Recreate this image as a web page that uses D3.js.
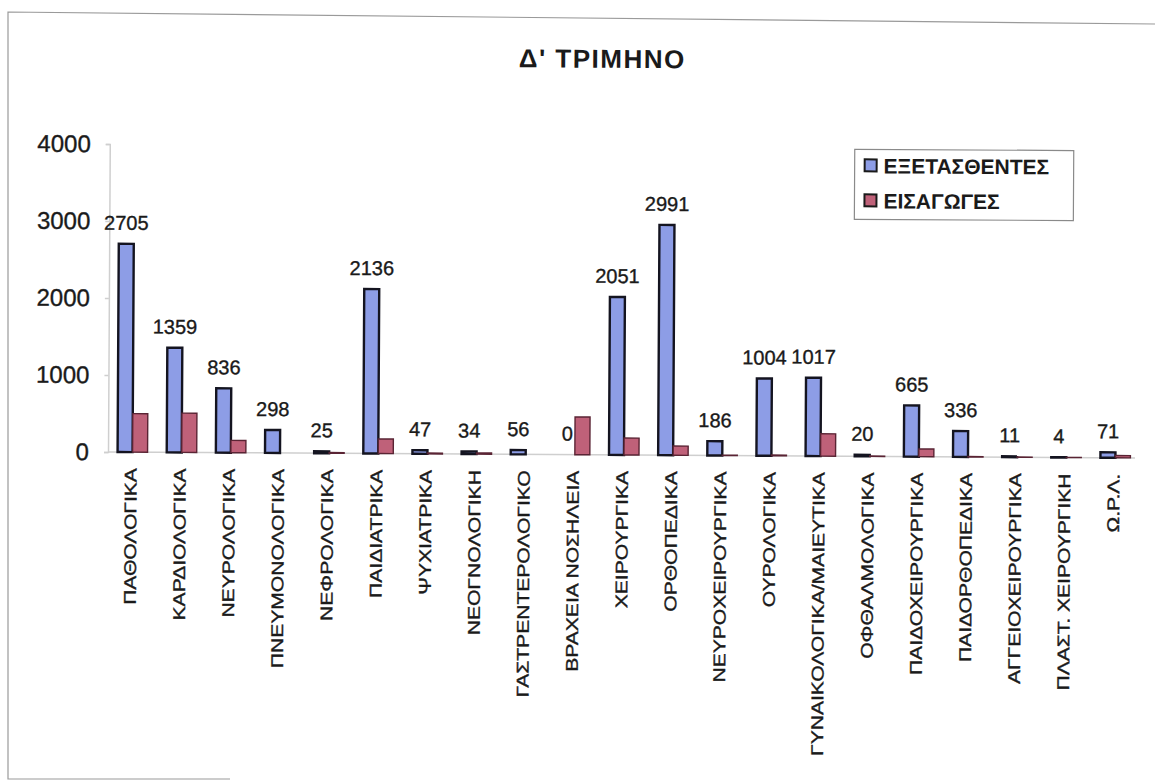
<!DOCTYPE html>
<html>
<head>
<meta charset="utf-8">
<script src="https://cdn.jsdelivr.net/npm/d3@7"></script>
<style>
  html, body { margin: 0; padding: 0; background: #fff; }
  svg { display: block; }
  text { font-family: "Liberation Sans", Arial, Helvetica, sans-serif; fill: #1a1a1a; }
  .ink { stroke: #1a1a1a; stroke-width: 0.35px; }
</style>
</head>
<body>
<svg id="chart" width="1155" height="780"></svg>
<script>
// Clinics of the quarter
const categories = [
  "ΠΑΘΟΛΟΓΙΚΑ", "ΚΑΡΔΙΟΛΟΓΙΚΑ", "ΝΕΥΡΟΛΟΓΙΚΑ", "ΠΝΕΥΜΟΝΟΛΟΓΙΚΑ", "ΝΕΦΡΟΛΟΓΙΚΑ",
  "ΠΑΙΔΙΑΤΡΙΚΑ", "ΨΥΧΙΑΤΡΙΚΑ", "ΝΕΟΓΝΟΛΟΓΙΚΗ", "ΓΑΣΤΡΕΝΤΕΡΟΛΟΓΙΚΟ", "ΒΡΑΧΕΙΑ ΝΟΣΗΛΕΙΑ",
  "ΧΕΙΡΟΥΡΓΙΚΑ", "ΟΡΘΟΠΕΔΙΚΑ", "ΝΕΥΡΟΧΕΙΡΟΥΡΓΙΚΑ", "ΟΥΡΟΛΟΓΙΚΑ", "ΓΥΝΑΙΚΟΛΟΓΙΚΑ/ΜΑΙΕΥΤΙΚΑ",
  "ΟΦΘΑΛΜΟΛΟΓΙΚΑ", "ΠΑΙΔΟΧΕΙΡΟΥΡΓΙΚΑ", "ΠΑΙΔΟΡΘΟΠΕΔΙΚΑ", "ΑΓΓΕΙΟΧΕΙΡΟΥΡΓΙΚΑ", "ΠΛΑΣΤ. ΧΕΙΡΟΥΡΓΙΚΗ",
  "Ω.Ρ.Λ."
];

// Patients examined per clinic
const examined = [2705, 1359, 836, 298, 25, 2136, 47, 34, 56, 0, 2051, 2991, 186, 1004, 1017, 20, 665, 336, 11, 4, 71];

// Admissions per clinic
const admissions = [500, 510, 160, 0, 10, 190, 10, 15, 0, 490, 220, 120, 5, 10, 290, 5, 100, 5, 3, 2, 30];

const seriesNames = ["ΕΞΕΤΑΣΘΕΝΤΕΣ", "ΕΙΣΑΓΩΓΕΣ"];
const seriesKeys = ["examined", "admissions"];
const yTicks = [0, 1000, 2000, 3000, 4000];

const fills = { examined: "#8d9de6", admissions: "#bf6179" };
const strokes = { examined: "#141420", admissions: "#5a2434" };
const strokeW = { examined: 2.4, admissions: 1.4 };

const rows = categories.map((c, i) => ({ cat: c, examined: examined[i], admissions: admissions[i] }));

const svg = d3.select("#chart");

// scanned sheet frame
svg.append("path")
  .attr("d", "M230,779 L8,779 L8,12 L1155,24")
  .attr("fill", "none").attr("stroke", "#9a9a9a").attr("stroke-width", 1.2);

const x = d3.scaleBand().domain(categories).range([108, 1140]).paddingInner(0.39).paddingOuter(0.195);
const xs = d3.scaleBand().domain(seriesKeys).range([0, x.bandwidth()]);
const y = d3.scaleLinear().domain([0, 4000]).range([452, 144]);

const g = svg.append("g").attr("transform", "rotate(0.33,108,452)");

// title
g.append("text")
  .attr("x", 600).attr("y", 65)
  .attr("text-anchor", "middle")
  .style("font-size", "26px").style("font-weight", "bold").style("letter-spacing", "1.5px")
  .text("Δ' ΤΡΙΜΗΝΟ");

// y axis
const yAxis = g.append("g")
  .attr("transform", `translate(${x.range()[0]},0)`)
  .call(d3.axisLeft(y).tickValues(yTicks).tickSize(4).tickPadding(15).tickFormat(d3.format("d")));
yAxis.select(".domain").attr("stroke", "#cfcfcf").attr("stroke-width", 1.5);
yAxis.selectAll(".tick line").attr("stroke", "#cfcfcf").attr("stroke-width", 1.5);
yAxis.selectAll(".tick text")
  .attr("class", "ink")
  .style("font-size", "24px").style("font-family", "'Liberation Sans', Arial, sans-serif")
  .attr("fill", "#1a1a1a");

// baseline
g.append("line")
  .attr("x1", x.range()[0]).attr("x2", x.range()[1] - 5)
  .attr("y1", y(0)).attr("y2", y(0))
  .attr("stroke", "#cfcfcf").attr("stroke-width", 1.5);

// bars
const groups = g.selectAll(".grp").data(rows).join("g")
  .attr("class", "grp")
  .attr("transform", d => `translate(${x(d.cat)},0)`);

groups.selectAll("rect").data(d => seriesKeys.map(k => ({ key: k, value: d[k] }))).join("rect")
  .attr("x", d => xs(d.key))
  .attr("width", xs.bandwidth())
  .attr("y", d => y(d.value))
  .attr("height", d => y(0) - y(d.value))
  .attr("fill", d => fills[d.key])
  .attr("stroke", d => strokes[d.key])
  .attr("stroke-width", d => strokeW[d.key]);

// value labels over the examined bars
groups.append("text")
  .attr("class", "ink")
  .attr("x", xs("examined") + xs.bandwidth() / 2)
  .attr("y", d => y(d.examined) - 14)
  .attr("text-anchor", "middle")
  .style("font-size", "20px")
  .text(d => d.examined);

// category labels
g.selectAll(".xlab").data(categories).join("text")
  .attr("class", "xlab ink")
  .attr("transform", d => `translate(${x(d) + x.bandwidth() / 2 - 2},468) rotate(-90) scale(1.24,1)`)
  .attr("text-anchor", "end")
  .attr("dy", "0.36em")
  .style("font-size", "17px")
  .text(d => d);

// legend
const lg = g.append("g").attr("transform", "translate(853,145)");
lg.append("rect").attr("width", 219).attr("height", 70)
  .attr("fill", "#fff").attr("stroke", "#8a8a8a").attr("stroke-width", 1.2);
seriesKeys.forEach((k, i) => {
  const row = lg.append("g").attr("transform", `translate(0,${10 + i * 35})`);
  row.append("rect").attr("x", 10).attr("y", 0).attr("width", 12).attr("height", 12)
    .attr("fill", fills[k]).attr("stroke", "#1a1a1a").attr("stroke-width", 2);
  row.append("text").attr("x", 29).attr("y", 14)
    .style("font-size", "21px").style("font-weight", "bold")
    .text(seriesNames[i]);
});
</script>
</body>
</html>
